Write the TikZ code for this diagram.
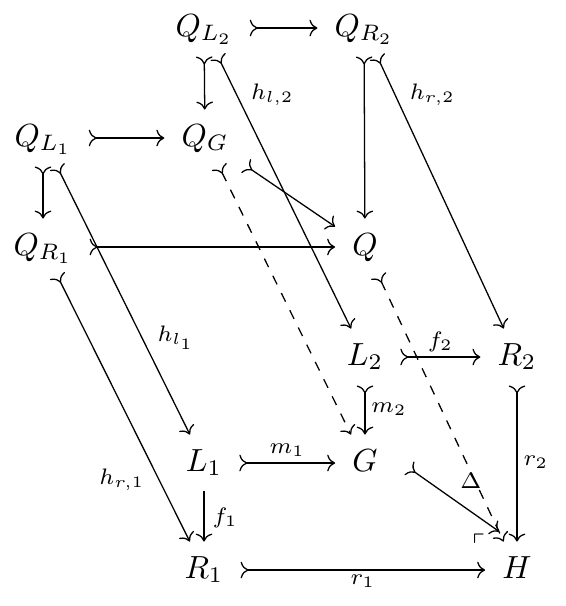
\documentclass[tikz,border=0pt]{standalone}
\usepackage{amssymb}
\usetikzlibrary{arrows.meta}
\begin{document}
\begin{tikzpicture}[x=0.3125pt, y=-0.3125pt,
  >={Computer Modern Rightarrow},
  obj/.style={inner xsep=5.2pt, inner ysep=0pt, text height=7pt, text depth=2pt, minimum height=17.4pt},
  lab/.style={font=\scriptsize, inner sep=0pt}]
\useasboundingbox (0,0) rectangle (566,606);
% objects
\node[obj] (QL2) at (204,28) {$Q_{L_2}$};
\node[obj] (QR2) at (364,28) {$Q_{R_2}$};
\node[obj] (QL1) at (43,138) {$Q_{L_1}$};
\node[obj] (QG) at (205,138) {$Q_G$};
\node[obj] (QR1) at (43,247) {$Q_{R_1}$};
\node[obj] (Q) at (365,247) {$Q$};
\node[obj] (L2) at (365,357) {$L_2$};
\node[obj] (R2) at (517,357) {$R_2$};
\node[obj] (L1) at (204,463) {$L_1$};
\node[obj] (G) at (365,463) {$G$};
\node[obj] (R1) at (204,570) {$R_1$};
\node[obj] (H) at (517,570) {$H$};
% arrows
\draw[>->] (QL2) -- (QR2);
\draw[>->] (QL2) -- (QG);
\draw[>->] (QL2) -- node[lab, pos=0.125, xshift=11.8pt, yshift=-1.25pt] {$h_{l,2}$} (L2);
\draw[>->] (QR2) -- (Q);
\draw[>->] (QR2) -- node[lab, pos=0.125, xshift=12.25pt, yshift=-1.25pt] {$h_{r,2}$} (R2);
\draw[>->] (QL1) -- (QG);
\draw[>->] (QL1) -- (QR1);
\draw[>->] (QL1) -- node[lab, pos=0.63, xshift=11pt, yshift=-0.8pt] {$h_{l_1}$} (L1);
\draw[>->] (QG) -- (Q);
\draw[>->, dashed] (QG) -- (G);
\draw[>->] (QR1) -- (Q);
\draw[>->] (QR1) -- node[lab, pos=0.75, xshift=-10.9pt, yshift=-1.45pt] {$h_{r,1}$} (R1);
\draw[>->, dashed] (Q) -- node[lab, pos=0.771, xshift=-1.3pt] {$\Delta$} (H);
\draw[>->] (L2) -- node[lab, yshift=4.7pt] {$f_2$} (R2);
\draw[>->] (L2) -- node[lab, xshift=7.5pt, yshift=0.3pt] {$m_2$} (G);
\draw[>->] (R2) -- node[lab, xshift=5.9pt, yshift=0.5pt] {$r_2$} (H);
\draw[>->] (L1) -- node[lab, yshift=4.1pt] {$m_1$} (G);
\draw[->] (L1) -- node[lab, xshift=6.6pt, yshift=-0.5pt] {$f_1$} (R1);
\draw[>->, transform canvas={shift={(4.4pt,5pt)}}] (G) -- (H);
\draw[>->] (R1) -- node[lab, yshift=-3.4pt] {$r_1$} (H);
\node[lab] (corner) at (479,542) {$\ulcorner$};
\end{tikzpicture}
\end{document}
